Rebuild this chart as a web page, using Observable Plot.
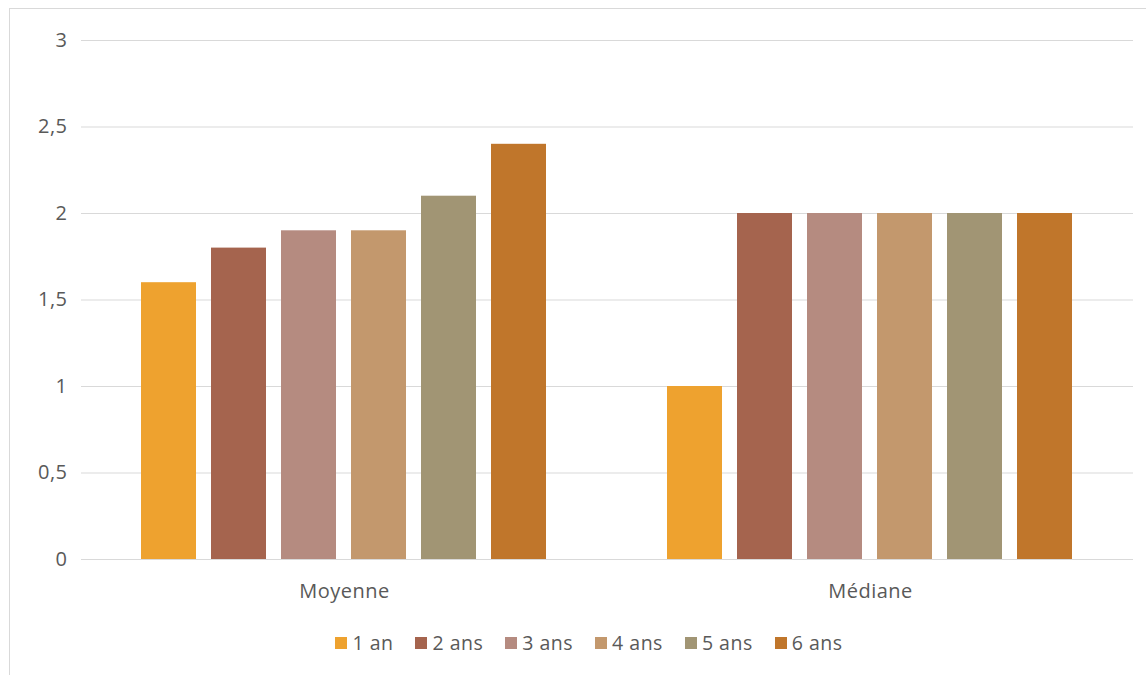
<!DOCTYPE html>
<html>
<head>
<meta charset="utf-8">
<script src="https://cdn.jsdelivr.net/npm/d3@7"></script>
<script src="https://cdn.jsdelivr.net/npm/@observablehq/plot@0.6"></script>
<style>
  html, body { margin: 0; padding: 0; background: #fff; }
  #frame { position: absolute; left: 9px; top: 8px; width: 1150px; height: 700px; border: 1px solid #d9d9d9; box-sizing: border-box; }
  #chart { position: absolute; left: 1px; top: 0px; }
  #legend { position: absolute; left: 0; top: 629px; width: 1178px; display: flex; justify-content: center; gap: 22px; font-family: "Open Sans", sans-serif; font-size: 19.5px; letter-spacing: 0.5px; color: #595959; }
  #legend .item { display: flex; align-items: center; gap: 5px; }
  #legend .sw { width: 12px; height: 12px; display: inline-block; }
</style>
</head>
<body>
<div id="frame"><div id="chart"></div></div>
<div id="legend"></div>
<script>
const groups = ["Moyenne", "Médiane"];
const series = ["1 an", "2 ans", "3 ans", "4 ans", "5 ans", "6 ans"];
const moyenne = [1.6, 1.8, 1.9, 1.9, 2.1, 2.4];
const mediane = [1, 2, 2, 2, 2, 2];
const colors = ["#EEA22F", "#A5644E", "#B58B80", "#C3986D", "#A19574", "#C0762B"];
const yTicks = [0, 0.5, 1, 1.5, 2, 2.5, 3];

const data = [];
series.forEach((s, i) => data.push({group: groups[0], serie: s, value: moyenne[i]}));
series.forEach((s, i) => data.push({group: groups[1], serie: s, value: mediane[i]}));

const fmt = d => String(d).replace(".", ",");

const chart = Plot.plot({
  width: 1136,
  height: 600,
  marginLeft: 70,
  marginRight: 14,
  marginTop: 31,
  marginBottom: 50,
  style: {fontFamily: "'Open Sans', sans-serif", fontSize: "20px", letterSpacing: "0.5px", color: "#595959", background: "#fff"},
  fx: {domain: groups, paddingInner: 0, paddingOuter: 0, label: null},
  x: {domain: series, paddingInner: 0.214, paddingOuter: 0.864, axis: null},
  y: {domain: [0, 3], ticks: yTicks, label: null},
  color: {domain: series, range: colors},
  marks: [
    Plot.ruleY(yTicks, {stroke: "#d9d9d9", strokeWidth: 1.2}),
    Plot.axisY({ticks: yTicks, tickFormat: fmt, tickSize: 0, tickPadding: 14, label: null, fill: "#595959", fontSize: 20}),
    Plot.axisFx({anchor: "bottom", tickSize: 0, tickPadding: 24, label: null, fill: "#595959", fontSize: 20}),
    Plot.barY(data, {fx: "group", x: "serie", y: "value", fill: "serie"})
  ]
});
document.getElementById("chart").appendChild(chart);

const legend = document.getElementById("legend");
series.forEach((s, i) => {
  const item = document.createElement("div");
  item.className = "item";
  const sw = document.createElement("span");
  sw.className = "sw";
  sw.style.background = colors[i];
  const t = document.createElement("span");
  t.textContent = s;
  item.appendChild(sw);
  item.appendChild(t);
  legend.appendChild(item);
});
</script>
</body>
</html>
